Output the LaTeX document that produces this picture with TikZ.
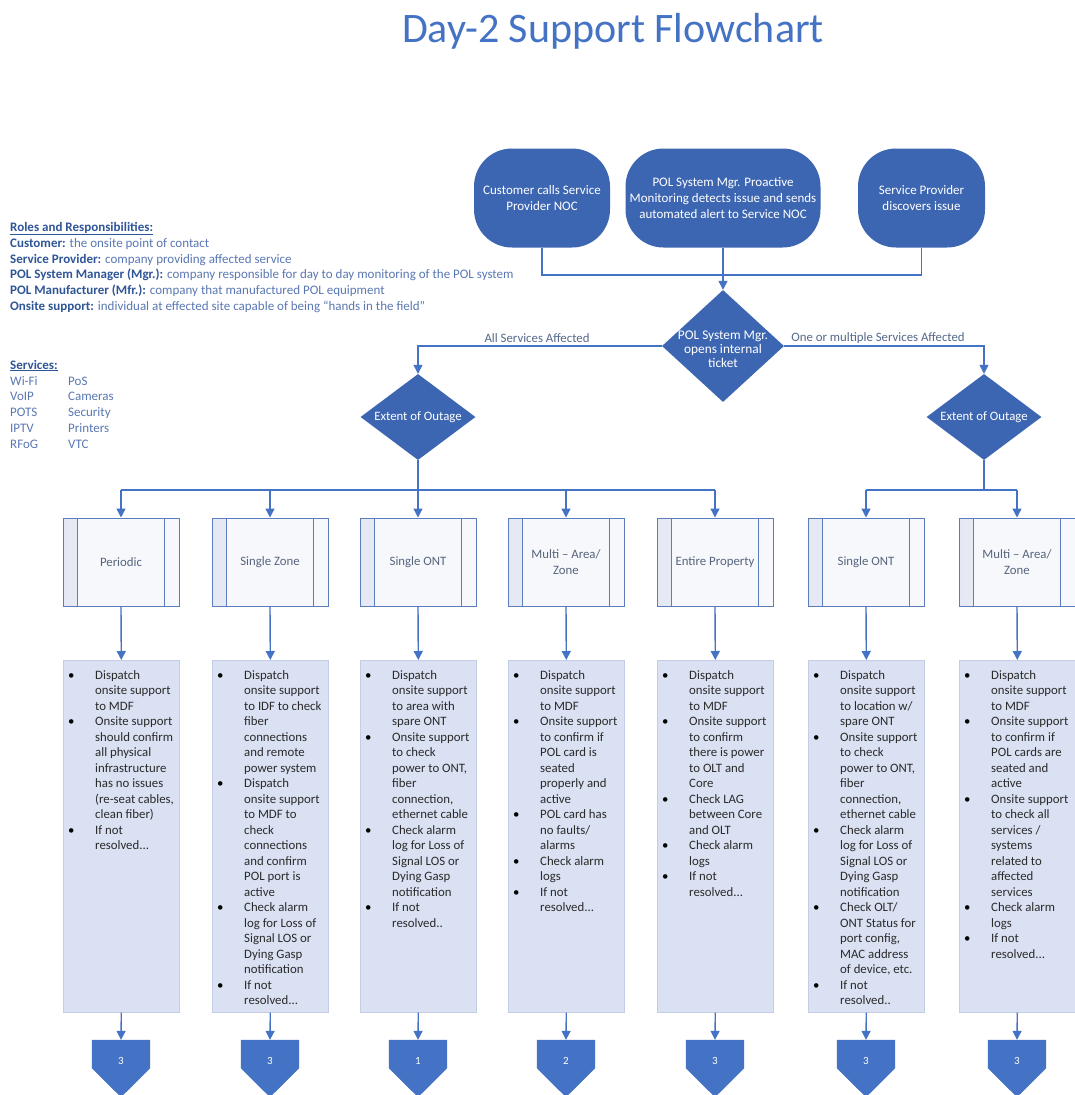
\documentclass[tikz,border=0pt]{standalone}
\usepackage{fontspec}
\setmainfont{Carlito}
\usetikzlibrary{arrows.meta,shapes.geometric,calc,backgrounds}
\definecolor{shapeblue}{HTML}{3D66B2}
\definecolor{pentblue}{HTML}{4472C4}
\definecolor{linecol}{HTML}{4472C4}
\definecolor{titleblue}{HTML}{4472C4}
\definecolor{legd}{HTML}{2F5597}
\definecolor{legl}{HTML}{5A78B3}
\definecolor{elab}{HTML}{55688A}
\definecolor{ptext}{HTML}{56647C}
\definecolor{pborder}{HTML}{5B7DBB}
\definecolor{bandL}{HTML}{E3E8F4}
\definecolor{bandR}{HTML}{F7F8FC}
\definecolor{tfill}{HTML}{D9E1F2}
\definecolor{tborder}{HTML}{C3CDE6}
\definecolor{boxtext}{HTML}{2A2A2A}
\newcommand{\bul}{\textcolor{black}{\textbullet}}
\newcommand{\blist}[1]{\begin{tabular}{@{}p{27pt}@{}l@{}}#1\end{tabular}}
\begin{document}
\begin{tikzpicture}[x=1pt,y=-1pt,
  conn/.style={draw=linecol, line width=1.4pt},
  arr/.style={conn, -{Triangle[width=9pt,length=9pt]}},
  term/.style={rectangle, rounded corners=38pt, fill=shapeblue, text=white, align=center,
    font=\fontsize{13}{15.8}\selectfont, inner sep=2pt, minimum height=99pt},
  dia/.style={diamond, fill=shapeblue, inner sep=0pt},
  diatext/.style={text=white, align=center, font=\fontsize{12.8}{13.6}\selectfont, inner sep=0pt},
  elabel/.style={text=elab, font=\fontsize{12.8}{15}\selectfont, inner sep=0pt},
  pbox/.style={draw=pborder, line width=1pt, fill=bandR, minimum width=116pt, minimum height=88pt,
    inner sep=2pt, align=center, text=ptext, font=\fontsize{12.8}{15.5}\selectfont,
    path picture={
      \shade[left color=bandL, right color=bandR] (path picture bounding box.north west) rectangle ([xshift=14.5pt]path picture bounding box.south west);
      \draw[pborder, line width=1.3pt] ([xshift=14.5pt]path picture bounding box.north west) -- ([xshift=14.5pt]path picture bounding box.south west);
      \draw[pborder, line width=1.3pt] ([xshift=-14.5pt]path picture bounding box.north east) -- ([xshift=-14.5pt]path picture bounding box.south east);
    }},
  tbox/.style={draw=tborder, fill=tfill, line width=0.6pt, minimum width=116pt, minimum height=352pt, inner sep=0pt, anchor=north west},
  btext/.style={anchor=north west, inner sep=0pt, text=boxtext, font=\fontsize{12.8}{15.5}\selectfont},
  pent/.style={rectangle, minimum width=58pt, minimum height=28pt, inner sep=0pt},
  pentnum/.style={text=white, inner sep=0pt, font=\fontsize{11}{13}\selectfont},
  legend/.style={anchor=north west, inner sep=0pt, text=legl, font=\fontsize{13}{15.9}\selectfont}
]
\useasboundingbox (0,0) rectangle (1075,1095);

% Title
\node[anchor=base, text=titleblue, font=\fontsize{42}{48}\selectfont, inner sep=0pt] (title) at (613,42) {Day-2 Support Flowchart};

% Legend
\node[legend] (roles) at (10,219.9) {\begin{tabular}{@{}l@{}}
\textcolor{legd}{\textbf{\underline{Roles and Responsibilities:}}}\\
\textcolor{legd}{\textbf{Customer:}} the onsite point of contact\\
\textcolor{legd}{\textbf{Service Provider:}} company providing affected service\\
\textcolor{legd}{\textbf{POL System Manager (Mgr.):}} company responsible for day to day monitoring of the POL system\\
\textcolor{legd}{\textbf{POL Manufacturer (Mfr.):}} company that manufactured POL equipment\\
\textcolor{legd}{\textbf{Onsite support:}} individual at effected site capable of being “hands in the field”
\end{tabular}};
\node[legend] (services) at (10,357.8) {\begin{tabular}{@{}p{58pt}@{}l@{}}
\multicolumn{2}{@{}l@{}}{\textcolor{legd}{\textbf{\underline{Services:}}}}\\
Wi-Fi & PoS\\
VoIP & Cameras\\
POTS & Security\\
IPTV & Printers\\
RFoG & VTC
\end{tabular}};

% Terminators
\node[term, minimum width=136pt] (T1) at (542,198) {Customer calls Service\\Provider NOC};
\node[term, minimum width=195pt] (T2) at (723,198) {POL System Mgr. Proactive\\Monitoring detects issue and sends\\automated alert to Service NOC};
\node[term, minimum width=127pt] (T3) at (921.5,198) {Service Provider\\discovers issue};
\coordinate (J) at (723,275);

% Decisions
\node[dia, minimum width=122pt, minimum height=112pt] (D0) at (723,346) {};
\node[diatext, font=\fontsize{13.3}{14}\selectfont] (D0t) at (723,349) {POL System Mgr.\\opens internal\\ticket};
\node[dia, minimum width=115pt, minimum height=86pt] (D1) at (418,417) {};
\node[diatext] (D1t) at (D1) {Extent of Outage};
\node[dia, minimum width=115pt, minimum height=86pt] (D2) at (984,417) {};
\node[diatext] (D2t) at (D2) {Extent of Outage};

\node[elabel] (L1) at (537,338) {All Services Affected};
\node[elabel] (L2) at (878,338) {One or multiple Services Affected};

% Process boxes
\node[pbox] (P1) at (121,562) {Periodic};
\node[pbox] (P2) at (270,562) {Single Zone};
\node[pbox] (P3) at (418,562) {Single ONT};
\node[pbox] (P4) at (566,562) {Multi – Area/\\Zone};
\node[pbox] (P5) at (715,562) {Entire Property};
\node[pbox] (P6) at (866,562) {Single ONT};
\node[pbox] (P7) at (1017,562) {Multi – Area/\\Zone};

% Text boxes
\node[tbox] (X1) at (63,660) {};
\node[tbox] (X2) at (212,660) {};
\node[tbox] (X3) at (360,660) {};
\node[tbox] (X4) at (508,660) {};
\node[tbox] (X5) at (657,660) {};
\node[tbox] (X6) at (808,660) {};
\node[tbox] (X7) at (959,660) {};

\node[btext] (X1t) at ([xshift=5pt,yshift=-8pt]X1.north west) {\blist{
\bul & Dispatch\\ & onsite support\\ & to MDF\\
\bul & Onsite support\\ & should confirm\\ & all physical\\ & infrastructure\\ & has no issues\\ & (re-seat cables,\\ & clean fiber)\\
\bul & If not\\ & resolved...}};
\node[btext] (X2t) at ([xshift=5pt,yshift=-8pt]X2.north west) {\blist{
\bul & Dispatch\\ & onsite support\\ & to IDF to check\\ & fiber\\ & connections\\ & and remote\\ & power system\\
\bul & Dispatch\\ & onsite support\\ & to MDF to\\ & check\\ & connections\\ & and confirm\\ & POL port is\\ & active\\
\bul & Check alarm\\ & log for Loss of\\ & Signal LOS or\\ & Dying Gasp\\ & notification\\
\bul & If not\\ & resolved...}};
\node[btext] (X3t) at ([xshift=5pt,yshift=-8pt]X3.north west) {\blist{
\bul & Dispatch\\ & onsite support\\ & to area with\\ & spare ONT\\
\bul & Onsite support\\ & to check\\ & power to ONT,\\ & fiber\\ & connection,\\ & ethernet cable\\
\bul & Check alarm\\ & log for Loss of\\ & Signal LOS or\\ & Dying Gasp\\ & notification\\
\bul & If not\\ & resolved..}};
\node[btext] (X4t) at ([xshift=5pt,yshift=-8pt]X4.north west) {\blist{
\bul & Dispatch\\ & onsite support\\ & to MDF\\
\bul & Onsite support\\ & to confirm if\\ & POL card is\\ & seated\\ & properly and\\ & active\\
\bul & POL card has\\ & no faults/\\ & alarms\\
\bul & Check alarm\\ & logs\\
\bul & If not\\ & resolved...}};
\node[btext] (X5t) at ([xshift=5pt,yshift=-8pt]X5.north west) {\blist{
\bul & Dispatch\\ & onsite support\\ & to MDF\\
\bul & Onsite support\\ & to confirm\\ & there is power\\ & to OLT and\\ & Core\\
\bul & Check LAG\\ & between Core\\ & and OLT\\
\bul & Check alarm\\ & logs\\
\bul & If not\\ & resolved...}};
\node[btext] (X6t) at ([xshift=5pt,yshift=-8pt]X6.north west) {\blist{
\bul & Dispatch\\ & onsite support\\ & to location w/\\ & spare ONT\\
\bul & Onsite support\\ & to check\\ & power to ONT,\\ & fiber\\ & connection,\\ & ethernet cable\\
\bul & Check alarm\\ & log for Loss of\\ & Signal LOS or\\ & Dying Gasp\\ & notification\\
\bul & Check OLT/\\ & ONT Status for\\ & port config,\\ & MAC address\\ & of device, etc.\\
\bul & If not\\ & resolved..}};
\node[btext] (X7t) at ([xshift=5pt,yshift=-8pt]X7.north west) {\blist{
\bul & Dispatch\\ & onsite support\\ & to MDF\\
\bul & Onsite support\\ & to confirm if\\ & POL cards are\\ & seated and\\ & active\\
\bul & Onsite support\\ & to check all\\ & services /\\ & systems\\ & related to\\ & affected\\ & services\\
\bul & Check alarm\\ & logs\\
\bul & If not\\ & resolved...}};

% Off-page connectors
\node[pent] (K1) at (121,1054) {};
\node[pent] (K2) at (270,1054) {};
\node[pent] (K3) at (418,1054) {};
\node[pent] (K4) at (566,1054) {};
\node[pent] (K5) at (715,1054) {};
\node[pent] (K6) at (866,1054) {};
\node[pent] (K7) at (1017,1054) {};
\begin{pgfonlayer}{background}
\fill[white] (0,0) rectangle (1075,1095);
\foreach \k in {K1,K2,K3,K4,K5,K6,K7}
  \fill[pentblue] (\k.north west) -- (\k.north east) -- (\k.south east) -- ($(\k.south)+(0,29)$) -- (\k.south west) -- cycle;
\end{pgfonlayer}
\node[pentnum] (K1n) at ([yshift=-7pt]K1.center) {3};
\node[pentnum] (K2n) at ([yshift=-7pt]K2.center) {3};
\node[pentnum] (K3n) at ([yshift=-7pt]K3.center) {1};
\node[pentnum] (K4n) at ([yshift=-7pt]K4.center) {2};
\node[pentnum] (K5n) at ([yshift=-7pt]K5.center) {3};
\node[pentnum] (K6n) at ([yshift=-7pt]K6.center) {3};
\node[pentnum] (K7n) at ([yshift=-7pt]K7.center) {3};

% Connectors top
\draw[conn] (T1.south) -- (T1.south |- J) -- (T3.south |- J) -- (T3.south);
\draw[arr] (T2.south) -- (D0.north);
\draw[arr] (D0.west) -| (D1.north);
\draw[arr] (D0.east) -| (D2.north);

% Distribution
\coordinate (B1) at (418,490);
\coordinate (B2) at (984,490);
\draw[conn] (D1.south) -- (B1);
\draw[conn] (D2.south) -- (B2);
\draw[conn] (P1.north |- B1) -- (P5.north |- B1);
\draw[conn] (P6.north |- B2) -- (P7.north |- B2);
\foreach \p in {P1,P2,P3,P4,P5} \draw[arr] (\p.north |- B1) -- (\p.north);
\foreach \p in {P6,P7} \draw[arr] (\p.north |- B2) -- (\p.north);

% Down arrows
\foreach \i in {1,...,7} {
  \draw[arr] (P\i.south) -- (X\i.north);
  \draw[arr] (X\i.south) -- (K\i.north);
}
\end{tikzpicture}
\end{document}
